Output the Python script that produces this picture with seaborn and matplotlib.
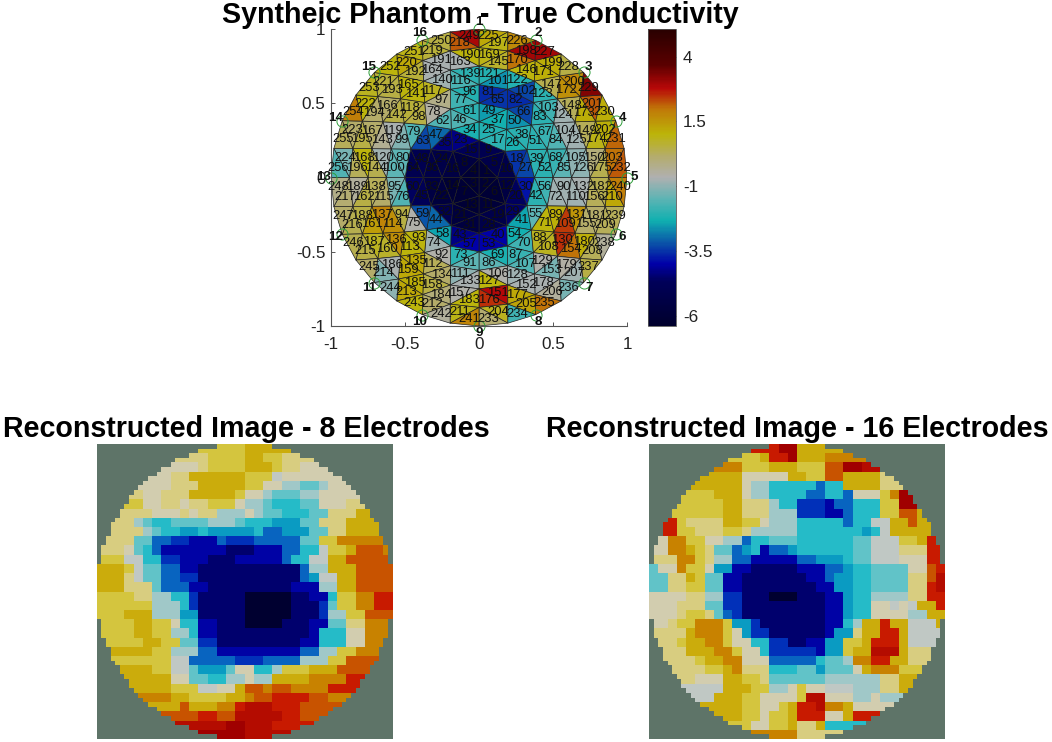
import numpy as np
import matplotlib
matplotlib.use('Agg')
import matplotlib.pyplot as plt
import seaborn as sns
from matplotlib.collections import PolyCollection
from matplotlib.colors import LinearSegmentedColormap

# element conductivities of the phantom, one list per mesh ring (elements numbered 1..256)
ring_1 = [-6, -6, -6, -6]
ring_2 = [-5.3, -6, -6, -5.6, -5.0, -5.2, -5.8, -5.5, -6, -6, -4.7, -5.5]
ring_3 = [-2, -3.5, -5.3, -4.6, -5.7, -5.7, -4.3, -5.3, -2.1, -2.2, -3.3, -5.3, -4.5, -3.8,
          -5.6, -5, -5.5, -2.2, -4.4, -5.3]
ring_4 = [-2.3, -2, -2, -4, -2.4, -2, -4.3, -3, -4.8, -1.6, -3, -5, -2.5, -2.6, -2, -2,
          -4, -2.3, -1.5, -1.8, -4, -2.4, -3.2, -4.6, -2, -1.6, -3.3, -5]
ring_5 = [-3.5, -3.3, -1.9, -1.9, -2.2, -1.8, 1, -0.8, -2, -0.8, -0.6, -1.6, -1.8, -0.5, -1.6, -1.5,
          -3.6, -3.6, -2, -1.6, -1.5, -1.5, -1.9, 0.8, 1.1, -0.8, -1.5, -0.6, 1, 0.5, -1.2,
          -2.1, -0.2, 0.5, -1.1, -1.5]
ring_6 = [-2.6, -3.3, -1.8, -0.8, -1, -0.6, -1.6, 0.8, 2.4, -0.8, -1, 0.3, 1, 1.6, 0.2,
          -1.7, 0.8, 0.6, -0.7, -0.8, -2.1, -2.1, -2, -0.8, -0.8, -1, 1, -0.8, -0.6, 2.5, 1.5, -0.7,
          -0.7, 0.2, 1.2, 1.6, 1.8, 0.3, -2, -0.8, 1, 0.5, -0.3, 0.4]
ring_7 = [0.7, 1, 0.4, 0.3, 0.3, 0, 2.8, -0.7, -1.2, 2, 0.2, 0.3, -0.6, 0.5, 1.2, 0.7, 1.4, 0.5,
          -0.7, -0.7, 1, 0.2, 0.2, 1, 0.9, 2, 1.1, 1.6, 1.1, 0.9, 0.4, 2.5, 1.2, -0.7, -0.5, 1.1, 0.2, 0.4,
          1, 0, 1.1, -0.7, 0.8, 0.5, -0.4, 1, -0.7, 0.6, 0.5, 0.2, 0.5, 0.3]
ring_8 = [0.9, 3.0, 1.1, 1.7, 2.2, 1.1, 2, 0.8, 1.3, -0.4, -0.8, 0.3, 0.3, 1.2,
          0.9, 0.2, 1.2, -1.1, 0.5, 0.4, 0.1, 2.2, 0.6, 1.2, 0.6, 1, 0.2, -1.2,
          1.2, 1.7, 3.0, 0.5, 3.3, 1.1, 2.1, 2.2, 0.1, -1.8, 2, -1.2, 0.5, -0.4, 0.3, 1.9,
          1.8, -0.4, 1, -1, 0.2, 0.4, 0.2, -0.2, 2.9, 0.5, 0.9, 1, 0.8, 1.9, 0.3, -1.6]

electrodes = list(range(1, 17))
axis_ticks = [-1, -0.5, 0, 0.5, 1]
axis_labels = ['-1', '-0.5', '0', '0.5', '1']
cbar_ticks = [4, 1.5, -1, -3.5, -6]

# reconstructed images, one letter per pixel inside the disc, see recon_levels
recon_levels = [-6, -5.5, -5, -4.5, -4, -3, -2.5, -2, -1.5, -1, -0.5, 0, 0.5, 1, 1.5, 2, 2.5, 3, 3.5]
recon_letters = 'abcdefghijklmnopqrs'
recon_8 = [
    'mmmnnn',
    'lmmmmnnmml',
    'kklmmmmnnnmllk',
    'kllnnnnnnmmmjkkkkk',
    'kklllnnnnnmmkkiihhikk',
    'lkklllnnnnnmkkihhhiikkkk',
    'mmkkllkllmmmkiihggghhkkkll',
    'lllkkklklliiikihhggghhlllnn',
    'llihgghhhhiiihgggfffhhlllnnn',
    'lllihggffgfffffgeefffhhllnnnn',
    'lllhheeddcccedddeeeeehhmmooooo',
    'llkhgecccccccbbbccceeggjmmnpppo',
    'mmjjggddcccbbbccccceggjjnnppppp',
    'nnnmjhheeccbbbbbbbbbbbeiinnnpppp',
    'nnnljhheeddbbbbbbbbbbbefjjnnpppp',
    'nnnlllheeeccbbbbbbbbbccciinnpppp',
    'mmmmlliiggdbbbbbaaaaabbccgmmooqq',
    'mmmmmmiiigdbbbbbaaaaabbbdhmmooqq',
    'mmnnniiiffbbbbbaaaaabbbdiimmppp',
    'mmmnnmmkggccbbbaaaabbbcchhlloo',
    'mmmnnmmiigccbbbbbbbbbbcgggkkoo',
    'mmmnnmmhhddbbbbbbbbbccgggkkoo',
    'nnnnmmiiieeccccccccceeiimmoo',
    'mmmmmjjeeeeedddeeeeiiimmppp',
    'nnnmmjjhfffhkkggimmmnnnppp',
    'nnnnkkhhggiikiinnnnooooq',
    'nnnmmmjjkknppoppooooqq',
    'oonnmmmmnnoppqqqqppoo',
    'nnpnnnooqrrrqqqppp',
    'ppqqpprrrrrqqpp',
    'rrrrssrrrqqq',
    'ssrrr',
]
recon_16 = [
    'qssnnn',
    'mmnqqsnnnooo',
    'oommmnnnmmmppssrr',
    'nnnnkkkkknnmmppnnnnl',
    'nnnnnkiigggggeggnnnnll',
    'mmmnnnkiiggggeeggekkkmos',
    'mmmmmnnllliggdddceegggmmss',
    'mmmmmnnllliiidddccegggmmppn',
    'qmllllnnmmkiiigggggeggjjnnpn',
    'qmmlllmmliiiiigggggggfgjnnnnn',
    'koommkkiiegghhhgggggghhjjjmmnq',
    'koonmlhhefgceefgggggghhjjjlllqq',
    'lloomliieeccccceefffghhjjjkkkqq',
    'hkkommkffccbbbbbccceefgghhhhkkpq',
    'hhllnmhhccbbbbbbbcceffgghhhhllpr',
    'hhllmmhhccbbbbbbbbccffgghhhhllqr',
    'kkkklliiddbbbaaabbbccfggiiiillqq',
    'kkklllhhddbbbbbbbbbccfggkkjkjnnq',
    'kklmmlhedbbbbbbbbbccfggkkkkiinn',
    'klmmooomffdbbbbbbbccginnqnnjjjn',
    'lllnooomkfddbbbbbbcfflnnqqnjjj',
    'lmnnoomkkggddbbccffmmnqqqnjjj',
    'llnnnoomkkgdddddcffmnnrrrnll',
    'llmnnookkkeeeeeghhiooqqnnll',
    'llmmnolllggghhfhhhknooomm',
    'lkkknnmmlhhhhhhiiiiiilln',
    'jjjnnnmmiikmkkjjjiiilln',
    'jjnnnmmkkkkmrrkkkiikii',
    'nnnmmkkmnqqroonkkk',
    'nnmmkmmnqqqkknqqq',
    'mkkmmnllnggg',
    'oolll',
]

W, H = 1052, 742

sns.set_theme(style='ticks')
plt.rcParams['font.family'] = ['Liberation Sans', 'DejaVu Sans']
plt.rcParams['axes.unicode_minus'] = False

mesh_cmap = LinearSegmentedColormap.from_list('mesh', [
    (0.00, '#00002c'), (0.15, '#00005a'), (0.208, '#0000a8'), (0.275, '#0a50a8'),
    (0.354, '#10b0b0'), (0.43, '#60b4b4'), (0.50, '#b0b0b0'), (0.57, '#b4ac6c'),
    (0.646, '#bcb408'), (0.73, '#c07808'), (0.80, '#b80808'), (0.88, '#5a0000'), (1.00, '#280000')])
recon_cmap = LinearSegmentedColormap.from_list('recon', [
    (0.00, '#000030'), (0.05, '#00006c'), (0.10, '#0000a4'), (0.15, '#0028b8'), (0.20, '#0860c0'),
    (0.30, '#0890c0'), (0.35, '#10b8c8'), (0.40, '#48c0c8'), (0.45, '#88c8c8'), (0.50, '#b8c8c8'),
    (0.55, '#c8c8c0'), (0.60, '#d8d0a4'), (0.65, '#d8cc6a'), (0.70, '#d2c22e'), (0.75, '#c8a400'),
    (0.80, '#c87c00'), (0.85, '#c84c00'), (0.90, '#c81800'), (1.00, '#a00000')])


def pixel_axes(x0, y0, x1, y1):
    return fig.add_axes([x0 / W, 1 - y1 / H, (x1 - x0) / W, (y1 - y0) / H])


def ring_point(ring, j, sx, sy):
    a = j * np.pi / 2 / max(ring, 1)
    return (sx * ring / 8 * np.sin(a), sy * ring / 8 * np.cos(a))


# mesh of 8 rings, numbered quadrant by quadrant like the phantom
quadrants = [(1, 1), (1, -1), (-1, -1), (-1, 1)]
triangles = []
for ring in range(1, 9):
    for sx, sy in quadrants:
        for j in range(ring - 1):
            triangles.append([ring_point(ring - 1, j, sx, sy), ring_point(ring - 1, j + 1, sx, sy),
                              ring_point(ring, j + 1, sx, sy)])
    for sx, sy in quadrants:
        for j in range(ring):
            triangles.append([ring_point(ring, j, sx, sy), ring_point(ring, j + 1, sx, sy),
                              ring_point(ring - 1, j, sx, sy)])
triangles = np.array(triangles)
element_values = np.array(ring_1 + ring_2 + ring_3 + ring_4 + ring_5 + ring_6 + ring_7 + ring_8)

fig = plt.figure(figsize=(W / 100, H / 100), dpi=100, facecolor='white')

# --- Top panel: phantom mesh ---
ax = pixel_axes(331, 29, 627, 326)
mesh = PolyCollection(triangles, array=element_values, cmap=mesh_cmap, edgecolors='#202020', linewidths=0.5)
mesh.set_clim(-6.38, 5.08)
ax.add_collection(mesh)
ax.set_xlim(-1, 1)
ax.set_ylim(-1, 1)
ax.set_xticks(axis_ticks, axis_labels)
ax.set_yticks(axis_ticks, axis_labels)
ax.tick_params(direction='in', length=3, width=0.7, color='#555555', labelsize=12.3, labelcolor='#222222')
ax.tick_params(axis='x', pad=8)
ax.tick_params(axis='y', pad=4)
sns.despine(ax=ax)
for side in ['left', 'bottom']:
    ax.spines[side].set_color('#555555')
    ax.spines[side].set_linewidth(0.8)

for n, centre in enumerate(triangles.mean(axis=1), start=1):
    ax.text(centre[0], centre[1], str(n), fontsize=9.4, ha='center', va='center', color='#101010', clip_on=False)

for e in electrodes:
    a = (e - 1) * np.pi / 8
    ax.plot(np.sin(a), np.cos(a), 'o', ms=8, mfc='none', mec='#2e9e3a', mew=0.7, clip_on=False)
    ax.text(1.05 * np.sin(a), 1.05 * np.cos(a), str(e), fontsize=9.6, fontweight='bold', ha='center', va='center',
            color='#111111', clip_on=False)

cax = pixel_axes(647.5, 28.5, 676, 326)
cbar = fig.colorbar(mesh, cax=cax, ticks=cbar_ticks)
cbar.ax.set_yticklabels([str(t) for t in cbar_ticks])
cbar.ax.tick_params(direction='in', length=2, width=0.6, color='#444444', labelsize=12.3, pad=5, labelcolor='#222222')
cbar.outline.set_edgecolor('#555555')
cbar.outline.set_linewidth(0.6)

fig.text(480 / W, 1 - 23 / H, 'Syntheic Phantom - True Conductivity', fontsize=20.6, fontweight='bold',
         ha='center', va='baseline', color='black')


# --- Bottom panels: reconstructions ---
def decode(rows):
    grid = np.zeros((32, 32))
    for r, row in enumerate(rows):
        start = (33 - len(row)) // 2
        levels = [recon_levels[recon_letters.index(letter)] for letter in row]
        # outside the typed part is cut away by the disc mask below
        grid[r, :start] = levels[0]
        grid[r, start:start + len(levels)] = levels
        grid[r, start + len(levels):] = levels[-1]
    return np.repeat(np.repeat(grid, 2, axis=0), 2, axis=1)


yy, xx = np.mgrid[0:64, 0:64]
outside = (xx - 31.5) ** 2 + (yy - 31.5) ** 2 > 32 ** 2

panels = [(recon_8, 96.7, 392.7, 246, 'Reconstructed Image - 8 Electrodes'),
          (recon_16, 649, 945, 797, 'Reconstructed Image - 16 Electrodes')]
for rows, x0, x1, title_x, title in panels:
    ax = pixel_axes(x0, 444, x1, 739)
    sns.heatmap(decode(rows), ax=ax, cmap=recon_cmap, vmin=-6, vmax=3.5, cbar=False, mask=outside,
                xticklabels=False, yticklabels=False, square=False)
    ax.set_facecolor('#5e7468')
    fig.text(title_x / W, 1 - 437 / H, title, fontsize=20.6, fontweight='bold', ha='center', va='baseline', color='black')

fig.savefig('out.png', dpi=100)
